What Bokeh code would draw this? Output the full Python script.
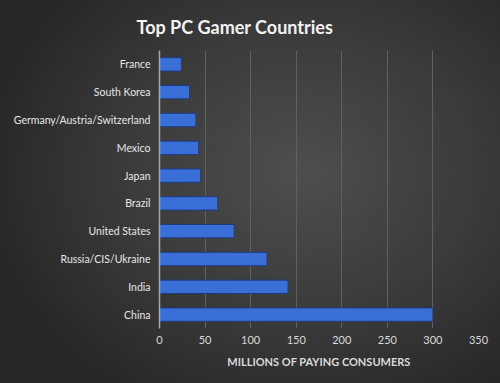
from bokeh.plotting import figure
from bokeh.models import FactorRange, Range1d, SingleIntervalTicker
from bokeh.embed import file_html
from bokeh.resources import INLINE

countries = ["France", "South Korea", "Germany/Austria/Switzerland", "Mexico", "Japan",
             "Brazil", "United States", "Russia/CIS/Ukraine", "India", "China"]
consumers = [24, 33, 40, 43, 45, 64, 82, 118, 141, 300]

factors = list(reversed(countries))

p = figure(width=500, height=383, output_backend="svg", toolbar_location=None,
           title="Top PC Gamer Countries",
           y_range=FactorRange(factors=factors, range_padding=0),
           x_range=Range1d(0, 350),
           min_border_left=159, min_border_right=22, min_border_top=50, min_border_bottom=55)

p.background_fill_alpha = 0
p.border_fill_alpha = 0
p.styles = {"background-image": "radial-gradient(ellipse 65% 70% at 60% 45%, #4e4e4e 0%, #3a3a3a 55%, #262626 100%)",
            "background-color": "#2e2e2e"}
p.outline_line_color = None

p.hbar(y=countries, right=consumers, left=0, height=0.48,
       fill_color="#3b6fd8", line_color="#1c3c84", line_width=1)

p.title.align = "left"
p.title.offset = -23
p.title.text_font = "Lato"
p.title.text_font_size = "18px"
p.title.text_font_style = "bold"
p.title.text_color = "#f2f2f2"
p.title.standoff = 25

p.xaxis.ticker = SingleIntervalTicker(interval=50)
p.xaxis.axis_line_color = None
p.xaxis.major_tick_line_color = None
p.xaxis.major_tick_out = 0
p.xaxis.minor_tick_line_color = None
p.xaxis.minor_tick_out = 0
p.xaxis.major_label_text_color = "#d9d9d9"
p.xaxis.major_label_text_font = "Lato"
p.xaxis.major_label_text_font_size = "11px"
p.xaxis.major_label_standoff = 7
p.xaxis.axis_label = "MILLIONS OF PAYING CONSUMERS"
p.xaxis.axis_label_text_font = "Lato"
p.xaxis.axis_label_text_font_size = "11px"
p.xaxis.axis_label_text_font_style = "bold"
p.xaxis.axis_label_text_color = "#d9d9d9"
p.xaxis.axis_label_standoff = 8

p.yaxis.axis_line_color = "#a8a8a8"
p.yaxis.axis_line_width = 1.5
p.yaxis.major_tick_line_color = None
p.yaxis.major_tick_out = 0
p.yaxis.minor_tick_line_color = None
p.yaxis.minor_tick_out = 0
p.yaxis.major_label_text_color = "#e6e6e6"
p.yaxis.major_label_text_font = "Lato"
p.yaxis.major_label_text_font_size = "10.5px"
p.yaxis.major_label_standoff = 9

p.xgrid.grid_line_color = "#606060"
p.xgrid.grid_line_width = 1
p.ygrid.grid_line_color = None

open("out.html", "w").write(file_html(p, INLINE))
